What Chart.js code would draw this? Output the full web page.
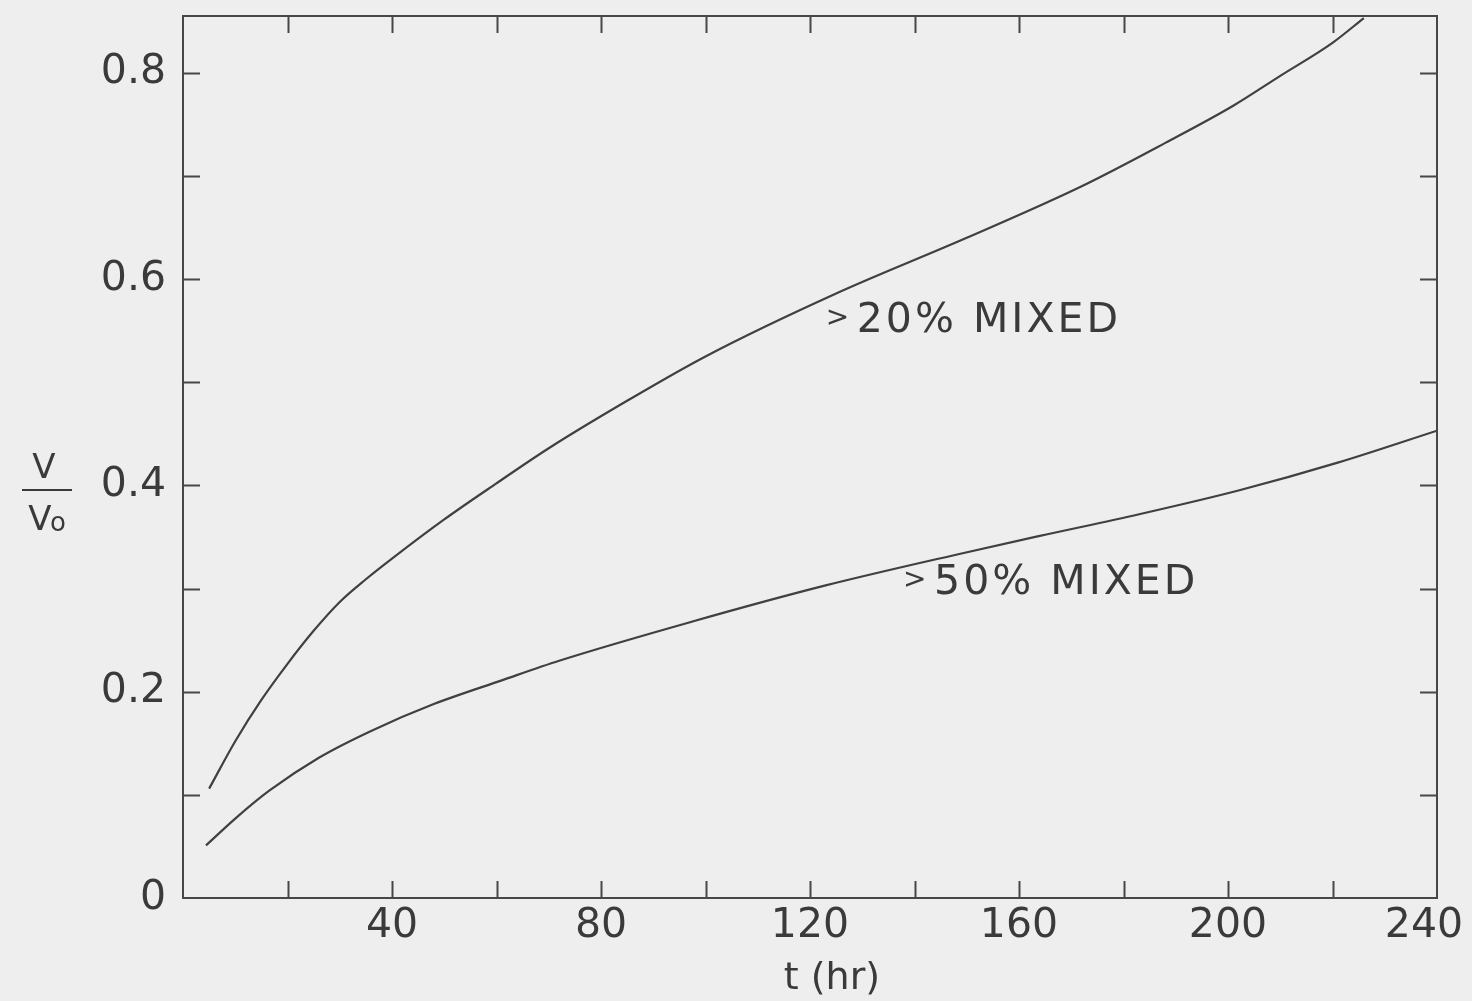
<!DOCTYPE html>
<html lang="en">
<head>
    <meta charset="UTF-8">
    <title>V/Vo vs t</title>
    <script src="https://cdn.jsdelivr.net/npm/chart.js"></script>
    <style>
        html, body { margin: 0; padding: 0; background: #eeeeee; }
        #wrap { width: 1472px; height: 1001px; }
    </style>
</head>
<body>
    <div id="wrap">
        <canvas id="grafico" width="1472" height="1001"></canvas>
    </div>

    <script>
        // curve data (t in hr, V/Vo)
        const t20 = [5, 10, 15, 20, 25, 30, 35, 40, 50, 60, 70, 85, 100, 125, 150, 172, 188, 201, 210, 220, 226];
        const v20 = [0.106, 0.152, 0.192, 0.227, 0.259, 0.287, 0.309, 0.329, 0.367, 0.402, 0.436, 0.482, 0.525, 0.586, 0.640, 0.690, 0.732, 0.768, 0.797, 0.829, 0.853];

        const t50 = [4.4, 10, 16.5, 26, 36, 48, 61, 72, 97.5, 123, 149, 164, 183, 202, 221, 240];
        const v50 = [0.051, 0.077, 0.104, 0.136, 0.162, 0.188, 0.211, 0.230, 0.268, 0.303, 0.334, 0.351, 0.372, 0.395, 0.422, 0.453];

        const curveNames = ['>20% MIXED', '>50% MIXED'];
        const xTicks = [40, 80, 120, 160, 200, 240];
        const yTicks = [0, 0.2, 0.4, 0.6, 0.8];

        const INK = '#3a3a3a';
        const FONT = "'DejaVu Sans', sans-serif";

        function pts(ts, vs) {
            return ts.map((t, i) => ({ x: t, y: vs[i] }));
        }

        // frame, inward ticks, curve labels, axis titles
        const decor = {
            id: 'decor',
            afterDraw(chart) {
                const c = chart.ctx;
                const a = chart.chartArea;
                const xs = chart.scales.x;
                const ys = chart.scales.y;
                const len = 17;
                c.save();
                c.strokeStyle = '#474747';
                c.lineWidth = 2;
                c.strokeRect(a.left, a.top, a.right - a.left, a.bottom - a.top);

                c.beginPath();
                xs.ticks.forEach(tk => {
                    if (tk.value <= 0 || tk.value >= 240) return;
                    const px = Math.round(xs.getPixelForValue(tk.value)) + 0.5;
                    c.moveTo(px, a.bottom); c.lineTo(px, a.bottom - len);
                    c.moveTo(px, a.top); c.lineTo(px, a.top + len);
                });
                ys.ticks.forEach(tk => {
                    if (tk.value <= 0) return;
                    const py = Math.round(ys.getPixelForValue(tk.value)) + 0.5;
                    c.moveTo(a.left, py); c.lineTo(a.left + len, py);
                    c.moveTo(a.right, py); c.lineTo(a.right - len, py);
                });
                c.stroke();

                // curve labels
                c.fillStyle = INK;
                c.textBaseline = 'alphabetic';
                c.textAlign = 'left';
                const lab = [
                    { t: 123.4, v: 0.549 },
                    { t: 138.2, v: 0.295 }
                ];
                curveNames.forEach((name, i) => {
                    const px = xs.getPixelForValue(lab[i].t);
                    const py = ys.getPixelForValue(lab[i].v);
                    c.font = '28px ' + FONT;
                    c.fillText('>', px - 2, py - 6);
                    c.font = '41px ' + FONT;
                    c.letterSpacing = '3px';
                    c.fillText(name.slice(1), px + 29, py);
                    c.letterSpacing = '0px';
                });

                // y title as a fraction V / Vo
                c.textAlign = 'center';
                c.font = '34px ' + FONT;
                c.fillText('V', 44, 478);
                c.fillRect(22, 489, 50, 2);
                c.fillText('V', 40, 530);
                c.font = '26px ' + FONT;
                c.fillText('o', 58, 531);

                // x title
                c.font = '38px ' + FONT;
                c.fillText('t (hr)', xs.getPixelForValue(124.2), a.bottom + 91);
                c.restore();
            }
        };

        const ctx = document.getElementById('grafico').getContext('2d');
        const myChart = new Chart(ctx, {
            type: 'line',
            data: {
                datasets: [
                    {
                        label: curveNames[0],
                        data: pts(t20, v20),
                        borderColor: '#404040',
                        borderWidth: 2.2,
                        pointRadius: 0,
                        cubicInterpolationMode: 'monotone',
                        fill: false
                    },
                    {
                        label: curveNames[1],
                        data: pts(t50, v50),
                        borderColor: '#404040',
                        borderWidth: 2.2,
                        pointRadius: 0,
                        cubicInterpolationMode: 'monotone',
                        fill: false
                    }
                ]
            },
            options: {
                responsive: false,
                animation: false,
                layout: { padding: { top: 16, right: 35, left: 0, bottom: 0 } },
                plugins: {
                    legend: { display: false },
                    tooltip: { enabled: false }
                },
                scales: {
                    x: {
                        type: 'linear',
                        min: 0,
                        max: 240,
                        grid: { display: false, drawTicks: false },
                        border: { display: false },
                        ticks: {
                            stepSize: 20,
                            autoSkip: false,
                            maxRotation: 0,
                            padding: 4,
                            color: INK,
                            font: { family: FONT, size: 41 },
                            // last label sits a little left of its tick, as in the original
                            callback: v => xTicks.includes(v) ? (v === 240 ? '240  ' : String(v)) : ''
                        },
                        afterFit: s => { s.height = 103; s.paddingLeft = 0; s.paddingRight = 0; }
                    },
                    y: {
                        type: 'linear',
                        min: 0,
                        max: 0.855,
                        grid: { display: false, drawTicks: false },
                        border: { display: false },
                        ticks: {
                            stepSize: 0.1,
                            includeBounds: false,
                            autoSkip: false,
                            padding: 17,
                            color: INK,
                            font: { family: FONT, size: 41 },
                            callback: v => {
                                const hit = yTicks.find(y => Math.abs(y - v) < 1e-6);
                                if (hit === undefined) return '';
                                return hit === 0 ? '0' : hit.toFixed(1);
                            }
                        },
                        afterFit: s => { s.width = 183; s.paddingTop = 0; s.paddingBottom = 0; }
                    }
                }
            },
            plugins: [decor]
        });
    </script>
</body>
</html>
